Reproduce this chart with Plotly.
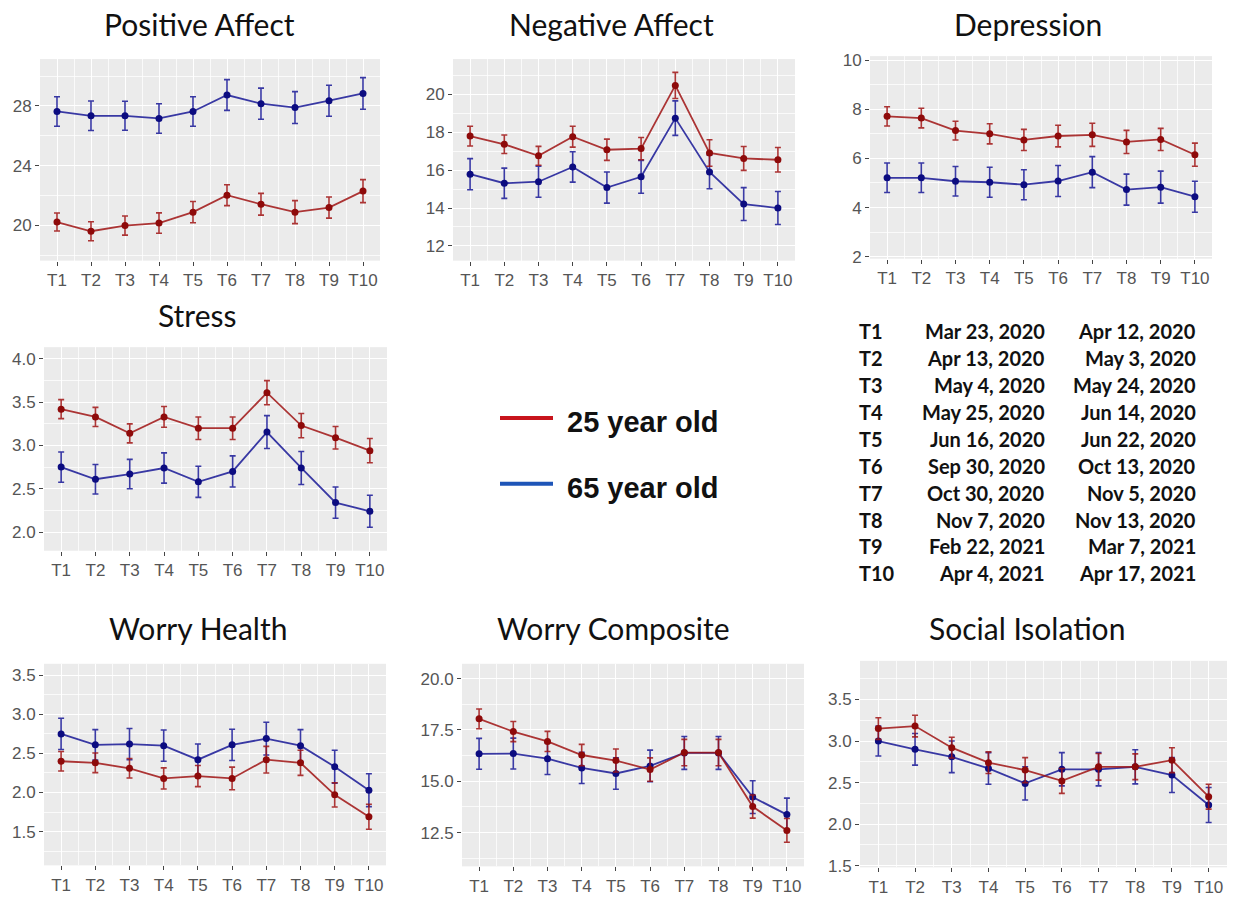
import plotly.graph_objects as go

# ---------------- data ----------------
times = ["T1", "T2", "T3", "T4", "T5", "T6", "T7", "T8", "T9", "T10"]
time_idx = list(range(1, 11))

pa_25 = [20.22, 19.60, 19.98, 20.15, 20.88, 22.02, 21.41, 20.88, 21.19, 22.29]
pa_25_err = [0.60, 0.64, 0.64, 0.68, 0.71, 0.70, 0.73, 0.77, 0.71, 0.77]
pa_65 = [27.63, 27.34, 27.34, 27.16, 27.63, 28.73, 28.15, 27.89, 28.35, 28.84]
pa_65_err = [0.99, 0.99, 0.97, 0.99, 0.99, 1.03, 1.04, 1.07, 1.04, 1.06]

na_25 = [17.80, 17.37, 16.76, 17.77, 17.08, 17.14, 20.48, 16.91, 16.62, 16.55]
na_25_err = [0.52, 0.49, 0.50, 0.55, 0.56, 0.59, 0.69, 0.70, 0.63, 0.65]
na_65 = [15.79, 15.31, 15.39, 16.17, 15.08, 15.65, 18.75, 15.91, 14.21, 14.00]
na_65_err = [0.82, 0.80, 0.82, 0.80, 0.82, 0.87, 0.91, 0.89, 0.87, 0.87]

dep_25 = [7.71, 7.64, 7.13, 7.00, 6.75, 6.91, 6.96, 6.67, 6.77, 6.15]
dep_25_err = [0.39, 0.40, 0.38, 0.41, 0.43, 0.44, 0.47, 0.47, 0.45, 0.47]
dep_65 = [5.21, 5.21, 5.07, 5.03, 4.93, 5.08, 5.44, 4.73, 4.83, 4.44]
dep_65_err = [0.60, 0.60, 0.60, 0.61, 0.61, 0.63, 0.63, 0.63, 0.65, 0.63]

st_25 = [3.42, 3.33, 3.14, 3.33, 3.20, 3.20, 3.61, 3.23, 3.09, 2.94]
st_25_err = [0.11, 0.11, 0.11, 0.12, 0.13, 0.13, 0.14, 0.14, 0.13, 0.14]
st_65 = [2.75, 2.61, 2.67, 2.74, 2.58, 2.70, 3.155, 2.74, 2.34, 2.24]
st_65_err = [0.175, 0.17, 0.17, 0.175, 0.18, 0.18, 0.19, 0.19, 0.18, 0.185]

wh_25 = [2.40, 2.38, 2.31, 2.18, 2.21, 2.18, 2.42, 2.38, 1.97, 1.69]
wh_25_err = [0.125, 0.125, 0.125, 0.135, 0.135, 0.145, 0.17, 0.16, 0.155, 0.16]
wh_65 = [2.75, 2.61, 2.62, 2.60, 2.42, 2.61, 2.69, 2.60, 2.33, 2.03]
wh_65_err = [0.20, 0.195, 0.20, 0.20, 0.20, 0.20, 0.21, 0.205, 0.21, 0.21]

wc_25 = [18.04, 17.42, 16.94, 16.28, 16.01, 15.57, 16.40, 16.40, 13.77, 12.61]
wc_25_err = [0.48, 0.49, 0.49, 0.52, 0.56, 0.57, 0.64, 0.64, 0.56, 0.58]
wc_65 = [16.34, 16.35, 16.10, 15.65, 15.38, 15.75, 16.38, 16.38, 14.23, 13.38]
wc_65_err = [0.75, 0.75, 0.77, 0.76, 0.77, 0.77, 0.80, 0.80, 0.80, 0.80]

si_25 = [3.15, 3.18, 2.92, 2.74, 2.65, 2.52, 2.69, 2.69, 2.77, 2.33]
si_25_err = [0.13, 0.13, 0.125, 0.13, 0.15, 0.15, 0.16, 0.155, 0.15, 0.15]
si_65 = [3.00, 2.90, 2.81, 2.67, 2.49, 2.66, 2.66, 2.69, 2.59, 2.23]
si_65_err = [0.18, 0.19, 0.19, 0.19, 0.20, 0.20, 0.20, 0.205, 0.21, 0.21]

group_labels = ["25 year old", "65 year old"]

table_codes = ["T1", "T2", "T3", "T4", "T5", "T6", "T7", "T8", "T9", "T10"]
table_start = ["Mar 23, 2020", "Apr 13, 2020", "May 4, 2020", "May 25, 2020", "Jun 16, 2020",
               "Sep 30, 2020", "Oct 30, 2020", "Nov 7, 2020", "Feb 22, 2021", "Apr 4, 2021"]
table_end = ["Apr 12, 2020", "May 3, 2020", "May 24, 2020", "Jun 14, 2020", "Jun 22, 2020",
             "Oct 13, 2020", "Nov 5, 2020", "Nov 13, 2020", "Mar 7, 2021", "Apr 17, 2021"]

# y tick values per panel
pa_ticks = [20, 24, 28]
na_ticks = [12, 14, 16, 18, 20]
dep_ticks = [2, 4, 6, 8, 10]
st_ticks = [2.0, 2.5, 3.0, 3.5, 4.0]
wh_ticks = [1.5, 2.0, 2.5, 3.0, 3.5]
wc_ticks = [12.5, 15.0, 17.5, 20.0]
si_ticks = [1.5, 2.0, 2.5, 3.0, 3.5]

# ---------------- layout helpers ----------------
W, H = 1236, 897
RED_LINE = "rgba(160,20,20,0.85)"
RED_MK = "#8E0A0A"
BLUE_LINE = "rgba(25,25,150,0.85)"
BLUE_MK = "#0C0C80"
TICK_FONT = dict(family="Liberation Sans, Arial, sans-serif", size=17, color="#555555")
TITLE_FONT = dict(family="Lato, Calibri, sans-serif", size=30, color="#111111")


def fx(px):
    return px / W


def fy(py):
    return 1 - py / H


panels = [
    # title, y25, e25, y65, e65, yticks, fmt, yrange, box(px l, r, t, b), title pos
    ("Positive Affect", pa_25, pa_25_err, pa_65, pa_65_err, pa_ticks, "{:.0f}",
     [17.63, 31.14], (40, 380, 55, 260), (199, 19)),
    ("Negative Affect", na_25, na_25_err, na_65, na_65_err, na_ticks, "{:.0f}",
     [11.22, 21.87], (453, 795, 55, 260), (611, 19)),
    ("Depression", dep_25, dep_25_err, dep_65, dep_65_err, dep_ticks, "{:.0f}",
     [1.92, 10.16], (870, 1212, 52, 258), (1028, 19)),
    ("Stress", st_25, st_25_err, st_65, st_65_err, st_ticks, "{:.1f}",
     [1.784, 4.136], (44, 387, 348, 555), (197, 315)),
    ("Worry Health", wh_25, wh_25_err, wh_65, wh_65_err, wh_ticks, "{:.1f}",
     [1.068, 3.647], (44, 386, 670, 875), (198, 634)),
    ("Worry Composite", wc_25, wc_25_err, wc_65, wc_65_err, wc_ticks, "{:.1f}",
     [10.86, 20.72], (462, 804, 670, 876), (613, 634)),
    ("Social Isolation", si_25, si_25_err, si_65, si_65_err, si_ticks, "{:.1f}",
     [1.48, 3.965], (860, 1227, 667, 877), (1027, 634)),
]

fig = go.Figure()
annotations = []
shapes = []

for i, (title, y25, e25, y65, e65, yt, fmt, yr, box, tpos) in enumerate(panels):
    n = "" if i == 0 else str(i + 1)
    xa, ya = "x" + n, "y" + n
    l, r, t, b = box
    step = yt[1] - yt[0]
    minor_y = [v - step / 2 for v in yt] + [yt[-1] + step / 2]
    fig.update_layout({
        "xaxis" + n: dict(
            domain=[fx(l), fx(r)], anchor=ya, range=[0.5, 10.5],
            tickmode="array", tickvals=time_idx, ticktext=times,
            showgrid=True, gridcolor="white", gridwidth=1.3,
            minor=dict(tickmode="array", tickvals=[v + 0.5 for v in time_idx[:-1]],
                       showgrid=True, gridcolor="rgba(255,255,255,0.75)", gridwidth=0.6, ticks=""),
            ticks="outside", ticklen=4, tickwidth=1.2, tickcolor="#444444",
            tickfont=TICK_FONT, zeroline=False, showline=False, fixedrange=True,
        ),
        "yaxis" + n: dict(
            domain=[fy(b), fy(t)], anchor=xa, range=yr,
            tickmode="array", tickvals=yt, ticktext=[fmt.format(v) for v in yt],
            showgrid=True, gridcolor="white", gridwidth=1.3,
            minor=dict(tickmode="array", tickvals=minor_y,
                       showgrid=True, gridcolor="rgba(255,255,255,0.75)", gridwidth=0.6, ticks=""),
            ticks="outside", ticklen=4, tickwidth=1.2, tickcolor="#444444",
            tickfont=TICK_FONT, zeroline=False, showline=False, fixedrange=True,
        ),
    })
    for yv, ev, lc, mc in ((y65, e65, BLUE_LINE, BLUE_MK), (y25, e25, RED_LINE, RED_MK)):
        fig.add_trace(go.Scatter(
            x=time_idx, y=yv, xaxis=xa, yaxis=ya, mode="lines+markers",
            line=dict(color=lc, width=1.8),
            marker=dict(color=mc, size=7),
            error_y=dict(type="data", array=ev, visible=True, color=lc, thickness=1.6, width=3),
            showlegend=False, hoverinfo="skip",
        ))
    annotations.append(dict(
        text=title, x=fx(tpos[0]), y=fy(tpos[1]), xref="paper", yref="paper",
        xanchor="center", yanchor="middle", showarrow=False, font=TITLE_FONT,
    ))

# ---------------- legend (drawn) ----------------
legend_colors = ["#C8141C", "#1E55B8"]
legend_y = [420, 487]
for lab, col, py in zip(group_labels, legend_colors, legend_y):
    shapes.append(dict(type="line", xref="paper", yref="paper",
                       x0=fx(500), x1=fx(553), y0=fy(py), y1=fy(py),
                       line=dict(color=col, width=4)))
    annotations.append(dict(
        text="<b>" + lab + "</b>", x=fx(565), y=fy(py + 4), xref="paper", yref="paper",
        xanchor="left", yanchor="middle", showarrow=False,
        font=dict(family="Liberation Sans, Arial, sans-serif", size=29, color="#111111"),
    ))

# ---------------- date table ----------------
TABLE_FONT = dict(family="Lato, Calibri, sans-serif", size=20, color="#111111")
for k, (c, s, e) in enumerate(zip(table_codes, table_start, table_end)):
    py = 331.5 + k * 27.4
    annotations.append(dict(text="<b>" + c + "</b>", x=fx(857), y=fy(py), xref="paper", yref="paper",
                            xanchor="left", yanchor="middle", showarrow=False, font=TABLE_FONT))
    annotations.append(dict(text="<b>" + s + "</b>", x=fx(1047), y=fy(py), xref="paper", yref="paper",
                            xanchor="right", yanchor="middle", showarrow=False, font=TABLE_FONT))
    annotations.append(dict(text="<b>" + e + "</b>", x=fx(1198), y=fy(py), xref="paper", yref="paper",
                            xanchor="right", yanchor="middle", showarrow=False, font=TABLE_FONT))

fig.update_layout(
    width=W, height=H, autosize=False,
    margin=dict(l=0, r=0, t=0, b=0),
    paper_bgcolor="white", plot_bgcolor="#EBEBEB",
    annotations=annotations, shapes=shapes,
    showlegend=False,
)

fig.write_html(
    "out.html",
    config={"displayModeBar": False},
    post_script="document.body.style.margin='0px';document.body.style.padding='0px';"
                "document.body.style.overflow='hidden';",
)
